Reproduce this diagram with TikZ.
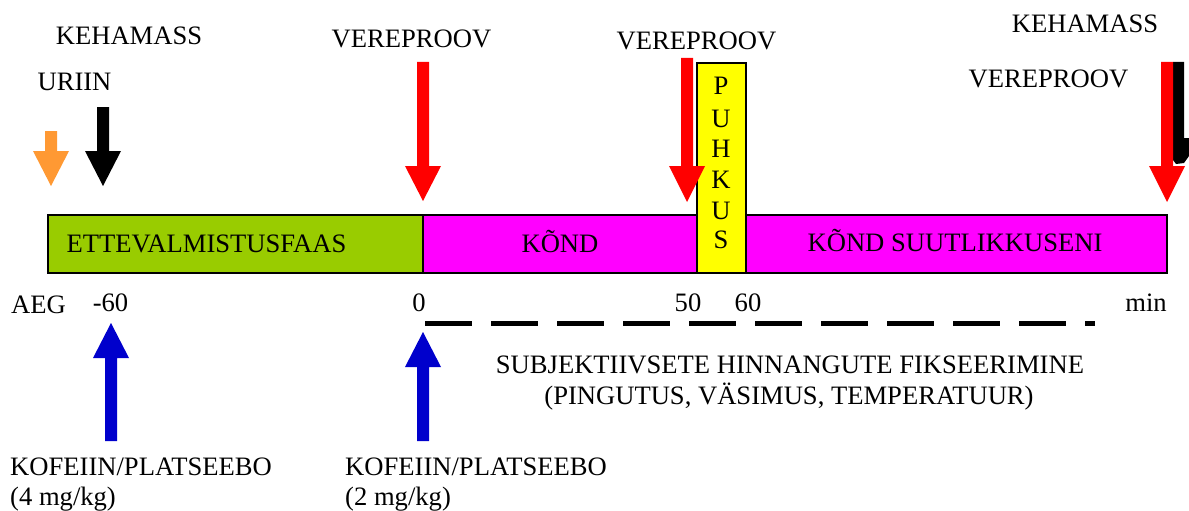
\documentclass[tikz,border=0pt]{standalone}
\usepackage{fontspec}
\setmainfont{Liberation Serif}
\definecolor{barGreen}{HTML}{99CC00}
\definecolor{barMag}{HTML}{FF00FF}
\definecolor{barYel}{HTML}{FFFF00}
\definecolor{arOrange}{HTML}{FF9933}
\definecolor{arRed}{HTML}{FF0000}
\definecolor{arBlue}{HTML}{0000CC}
% block arrow: #1 x-centre, #2 shaft end, #3 head base, #4 tip, #5 colour
\newcommand\blockarrow[5]{%
  \fill[#5] ({#1-6},#2) -- ({#1+6},#2) -- ({#1+6},#3) -- ({#1+18},#3) -- (#1,#4)
    -- ({#1-18},#3) -- ({#1-6},#3) -- cycle;}
\begin{document}
\begin{tikzpicture}[x=1pt,y=-1pt,
  lbl/.style={inner sep=0pt, font=\fontsize{26.6}{30}\selectfont},
  phase/.style={draw=black, line width=1.5pt}]
\useasboundingbox (0,0) rectangle (1189,511);
% phase bars
\draw[phase, fill=barGreen] (48,215) rectangle (423,273);
\draw[phase, fill=barMag] (423,215) rectangle (697,273);
\draw[phase, fill=barMag] (746,215) rectangle (1167,273);
\draw[phase, fill=barYel] (697,63) rectangle (746,273);
% bar texts
\node[lbl, anchor=base] (prep) at (206.5,252) {ETTEVALMISTUSFAAS};
\node[lbl, anchor=base] (walk) at (560,252) {KÕND};
\node[lbl, anchor=base] (walk2) at (955,251) {KÕND SUUTLIKKUSENI};
\node[lbl, anchor=base] (p1) at (721,95) {P};
\node[lbl, anchor=base] (p2) at (721,127) {U};
\node[lbl, anchor=base] (p3) at (721,157) {H};
\node[lbl, anchor=base] (p4) at (721,188) {K};
\node[lbl, anchor=base] (p5) at (721,219) {U};
\node[lbl, anchor=base] (p6) at (721,248) {S};
% top labels
\node[lbl, anchor=base] (kh1) at (129,45) {KEHAMASS};
\node[lbl, anchor=base] (ur) at (74.5,91) {URIIN};
\node[lbl, anchor=base] (vp1) at (411.5,48) {VEREPROOV};
\node[lbl, anchor=base] (vp2) at (696.5,50) {VEREPROOV};
\node[lbl, anchor=base] (kh2) at (1085,33) {KEHAMASS};
\node[lbl, anchor=base] (vp3) at (1048.5,88) {VEREPROOV};
% down arrows
\blockarrow{51}{131}{151}{186}{arOrange}
\blockarrow{103}{107}{151}{186}{black}
\blockarrow{423}{62}{166}{201}{arRed}
\fill[black] (1173,62) -- (1184,62) -- (1184,138) -- (1189,138) -- (1189,156)
  -- (1184,163) -- (1176,164) -- (1173,160) -- cycle;
\blockarrow{687}{58}{166}{202}{arRed}
\blockarrow{1167}{62}{166}{202}{arRed}
% time axis labels
\node[lbl, anchor=base] (aeg) at (38.5,313) {AEG};
\node[lbl, anchor=base] (m60) at (110.5,311) {-60};
\node[lbl, anchor=base] (t0) at (419,311) {0};
\node[lbl, anchor=base] (t50) at (688,311) {50};
\node[lbl, anchor=base] (t60) at (748,311) {60};
\node[lbl, anchor=base] (tmin) at (1146,311) {min};
% dashed line
\draw[line width=5pt, dash pattern=on 47pt off 19pt] (425,323) -- (1095,323);
\node[lbl, anchor=base] (subj) at (790,373) {SUBJEKTIIVSETE HINNANGUTE FIKSEERIMINE};
\node[lbl, anchor=base] (subj2) at (789,404) {(PINGUTUS, VÄSIMUS, TEMPERATUUR)};
% up arrows
\blockarrow{111}{441}{358}{323}{arBlue}
\blockarrow{423}{441}{367}{332}{arBlue}
\node[lbl, anchor=base west] (k1) at (10,475) {KOFEIIN/PLATSEEBO};
\node[lbl, anchor=base west] (k1b) at (10,505) {(4 mg/kg)};
\node[lbl, anchor=base west] (k2) at (345,475) {KOFEIIN/PLATSEEBO};
\node[lbl, anchor=base west] (k2b) at (345,505) {(2 mg/kg)};
\end{tikzpicture}
\end{document}
